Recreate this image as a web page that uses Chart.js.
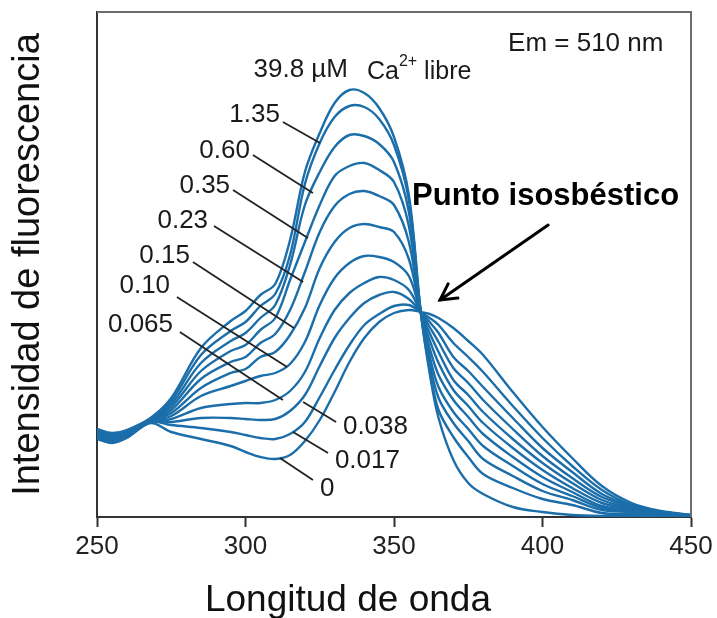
<!DOCTYPE html>
<html><head><meta charset="utf-8">
<script src="https://cdn.jsdelivr.net/npm/chart.js@4.4.1/dist/chart.umd.min.js"></script>
<style>html,body{margin:0;padding:0;background:#fff;}#wrap{width:717px;height:618px;}</style>
</head><body><div id="wrap"><canvas id="c" width="717" height="618"></canvas></div>
<script>
// Excitation wavelength (nm)
const wavelengths = [250,255,260,268,275,285,295,300,305,310,315,320,325,330,335,340,345,350,355,359,362,365,370,375,380,390,400,410,420,430,440,450];
// Fluorescence intensity (a.u.) for each free Ca2+ concentration (µM)
const ca398  = [88,84,87,99,119,169,196,206,222,233,277,345,384,414,427,424,409,380,322,205,144,99,57,34,23,10,5,2,1,1,0,0];
const ca135  = [87,83,86,98,116,162,186,195,211,223,262,333,374,400,411,410,398,372,317,205,148,107,80,60,43,29,18,12,4,3,1,0];
const ca060  = [86,82,85,97,113,154,176,184,199,212,252,312,345,370,382,381,373,355,305,205,154,119,94,76,58,41,26,17,7,5,2,0];
const ca035  = [85,81,85,97,110,146,166,172,187,199,237,275,312,341,351,354,347,335,291,205,161,130,105,88,71,51,33,21,9,6,2,1];
const ca023  = [84,80,84,96,107,138,155,160,174,183,207,245,285,311,323,326,321,312,275,205,169,142,117,100,83,60,40,25,11,7,3,1];
const ca015  = [83,79,83,96,104,129,144,148,160,165,182,209,249,275,289,293,290,285,258,205,177,154,127,111,94,69,47,29,14,8,3,1];
const ca010  = [82,78,82,96,101,121,131,136,141,144,153,175,212,239,254,261,260,255,241,205,184,165,137,122,105,78,54,34,17,9,4,1];
const ca0065 = [81,77,81,95,98,109,113,114,114,117,126,145,179,207,224,234,240,237,227,205,190,175,149,134,117,88,61,39,20,10,4,1];
const ca0038 = [80,76,80,95,95,99,99,98,97,98,106,122,151,179,199,214,222,225,218,205,195,184,160,146,130,99,69,45,23,11,5,2];
const ca0017 = [79,75,80,95,92,89,85,82,79,78,83,95,120,147,172,192,203,211,212,205,199,192,174,160,145,111,79,51,27,12,5,2];
const ca0    = [78,74,79,94,85,78,71,65,60,58,62,76,97,125,155,179,195,204,207,205,203,199,189,176,162,125,90,59,31,14,6,2];
const seriesNames = ['39.8','1.35','0.60','0.35','0.23','0.15','0.10','0.065','0.038','0.017','0'];
const seriesValues = [ca398,ca135,ca060,ca035,ca023,ca015,ca010,ca0065,ca0038,ca0017,ca0];
const xTicks = [250,300,350,400,450];

const BLUE = '#1b6ea9';
const FONT = '"Liberation Sans", Arial, sans-serif';

const datasets = seriesValues.map((vals, i) => ({
  label: seriesNames[i],
  data: wavelengths.map((w, j) => ({x: w, y: vals[j]})),
  borderColor: BLUE,
  borderWidth: 2.4,
  pointRadius: 0,
  fill: false,
  tension: 0.35
}));

// annotation anchors in data units (nm, intensity)
const rightLabels = [
  {t:'39.8 µM', x:334.5, y:447},
  {t:'1.35', x:311.6, y:402, l:[312.6,395,325.1,374]},
  {t:'0.60', x:301.5, y:366, l:[302.5,362,322.7,324]},
  {t:'0.35', x:294.8, y:331, l:[295.8,327,321.0,279]},
  {t:'0.23', x:287.4, y:296, l:[289.4,291,319.4,235]},
  {t:'0.15', x:281.3, y:261, l:[282.3,255,316.3,189]},
  {t:'0.10', x:274.6, y:231, l:[276.9,220,314.0,150]},
  {t:'0.065', x:275.6, y:192, l:[277.9,185,312.6,117]}
];
const leftLabels = [
  {t:'0.038', x:332.8, y:90, l:[319.4,115,330.5,95]},
  {t:'0.017', x:330.1, y:56, l:[316.0,85,327.8,64]},
  {t:'0', x:325.1, y:28, l:[311.6,59,322.7,37]}
];

const annot = {
  id: 'annot',
  afterDatasetsDraw(chart) {
    const {ctx, chartArea: a, scales: {x, y}} = chart;
    const X = v => x.getPixelForValue(v), Y = v => y.getPixelForValue(v);
    ctx.save();
    ctx.strokeStyle = '#6d6d6d'; ctx.lineWidth = 2;
    ctx.beginPath();
    ctx.moveTo(a.left, a.top); ctx.lineTo(a.right, a.top); ctx.lineTo(a.right, a.bottom);
    ctx.stroke();
    ctx.strokeStyle = '#222'; ctx.lineWidth = 1.8;
    [...rightLabels, ...leftLabels].forEach(o => {
      if (!o.l) return;
      ctx.beginPath(); ctx.moveTo(X(o.l[0]), Y(o.l[1])); ctx.lineTo(X(o.l[2]), Y(o.l[3])); ctx.stroke();
    });
    ctx.fillStyle = '#1a1a1a';
    ctx.textBaseline = 'middle';
    ctx.font = '26px ' + FONT;
    ctx.textAlign = 'right';
    rightLabels.forEach(o => ctx.fillText(o.t, X(o.x), Y(o.y)));
    ctx.textAlign = 'left';
    leftLabels.forEach(o => ctx.fillText(o.t, X(o.x), Y(o.y)));
    ctx.font = '25px ' + FONT;
    let cx = X(340.9), cy = Y(445);
    ctx.fillText('Ca', cx, cy); cx += ctx.measureText('Ca').width;
    ctx.font = '16px ' + FONT;
    ctx.fillText('2+', cx, cy - 10); cx += ctx.measureText('2+').width;
    ctx.font = '25px ' + FONT;
    ctx.fillText(' libre', cx, cy);
    ctx.font = '26px ' + FONT;
    ctx.fillText('Em = 510 nm', X(388.4), Y(473));
    ctx.font = 'bold 31px ' + FONT;
    ctx.fillStyle = '#000';
    ctx.fillText('Punto isosbéstico', X(356.1), Y(321));
    const x0 = X(401.9), y0 = Y(292), x1 = X(365.5), y1 = Y(217);
    ctx.strokeStyle = '#000'; ctx.lineWidth = 3; ctx.lineCap = 'round';
    ctx.beginPath(); ctx.moveTo(x0, y0); ctx.lineTo(x1, y1); ctx.stroke();
    const ang = Math.atan2(y1 - y0, x1 - x0), L = 18;
    ctx.beginPath();
    ctx.moveTo(x1 - L * Math.cos(ang - 0.5), y1 - L * Math.sin(ang - 0.5));
    ctx.lineTo(x1, y1);
    ctx.lineTo(x1 - L * Math.cos(ang + 0.5), y1 - L * Math.sin(ang + 0.5));
    ctx.stroke();
    ctx.font = '37px ' + FONT;
    ctx.fillStyle = '#111';
    ctx.textAlign = 'center';
    ctx.textBaseline = 'alphabetic';
    ctx.fillText('Longitud de onda', X(334.5), 611);
    ctx.restore();
  }
};

new Chart(document.getElementById('c'), {
  type: 'line',
  data: { datasets },
  options: {
    responsive: false,
    animation: false,
    layout: { padding: { top: 12, right: 26, left: 0, bottom: 0 } },
    plugins: { legend: { display: false }, tooltip: { enabled: false } },
    scales: {
      x: {
        type: 'linear', min: 250, max: 450,
        afterBuildTicks: s => { s.ticks = xTicks.map(v => ({value: v})); },
        afterFit: s => { s.height = 101; s.paddingLeft = 0; s.paddingRight = 0; },
        ticks: { font: { size: 26, family: FONT }, color: '#222', padding: 4, maxRotation: 0 },
        grid: { drawOnChartArea: false, drawTicks: true, tickLength: 10, tickColor: '#333', tickWidth: 2 },
        border: { display: true, color: '#333', width: 2 },
        title: { display: false }
      },
      y: {
        min: 0, max: 505,
        afterFit: s => { s.width = 97; s.paddingTop = 0; s.paddingBottom = 0; },
        ticks: { display: false },
        grid: { display: false, drawTicks: false },
        border: { display: true, color: '#333', width: 2 },
        title: { display: true, text: 'Intensidad de fluorescencia', color: '#111',
                 font: { size: 38, family: FONT, lineHeight: 1 }, padding: { top: 10, bottom: 0 } }
      }
    }
  },
  plugins: [annot]
});
</script></body></html>
